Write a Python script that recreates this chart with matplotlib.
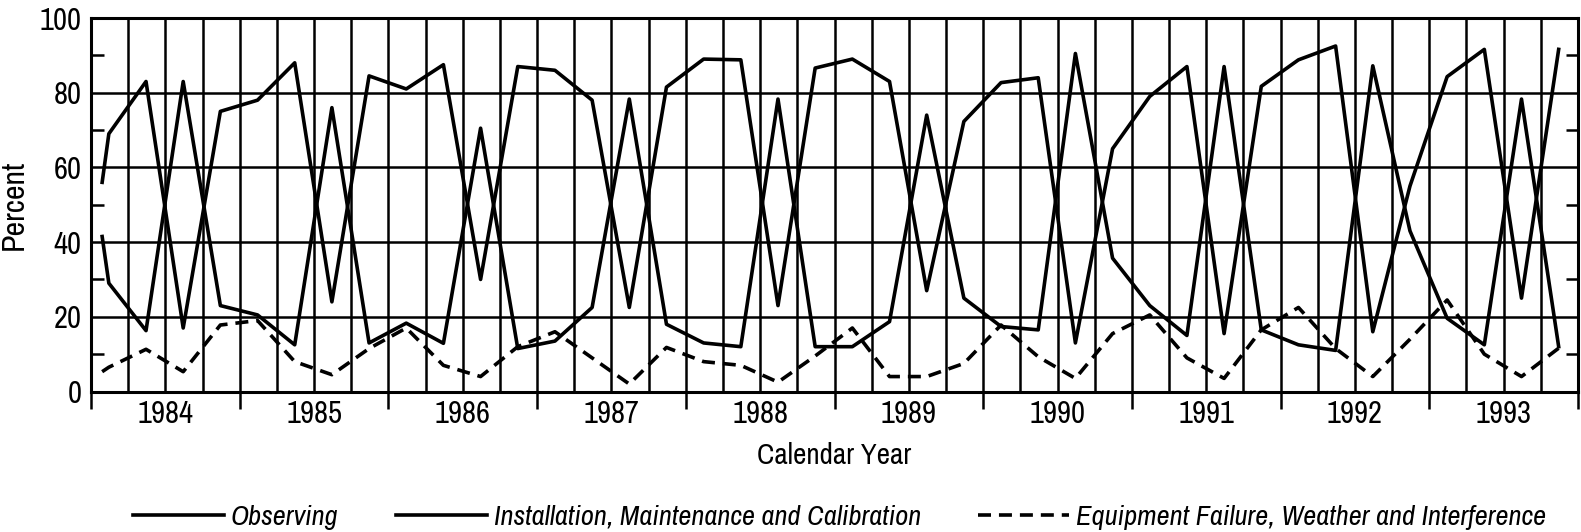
import numpy as np
import matplotlib.pyplot as plt
from matplotlib import font_manager

# look for a condensed face, the original lettering is narrow
entries = font_manager.fontManager.ttflist
narrow = [f.name for f in entries if 'Narrow' in f.name or 'Condensed' in f.name]
stretch = 'normal'
if narrow:
    family = sorted(set(narrow))[0]
    scale = 1.0
elif any(f.name == 'DejaVu Sans' and f.stretch == 'condensed' for f in entries):
    family = 'DejaVu Sans'
    stretch = 'condensed'
    scale = 0.9
else:
    family = 'DejaVu Sans'
    scale = 0.75
plt.rcParams['font.family'] = [family, 'DejaVu Sans']
plt.rcParams['font.stretch'] = stretch

# values, one per quarter, 1984 Q1 .. 1993 Q4
years = list(range(1984, 1994))
quarter = np.arange(40)
start_obs, start_imc, start_eq = 56, 41.5, 5.3   # short lead-in before Q1 1984
observing = [69, 83, 17, 75, 78, 88, 24, 84.5, 81, 87.5,
             30, 87, 86, 78, 22.5, 81.5, 89, 88.8, 23, 86.6,
             89, 83, 27, 72.3, 82.7, 84, 13, 65, 79, 87,
             15.5, 81.7, 88.8, 92.5, 16, 55, 84.3, 91.6, 25, 91.6]
imc = [29, 16.3, 83, 23, 20.5, 12.5, 76, 13, 18.3, 12.9,
       70.5, 11.5, 13.5, 22.5, 78.3, 18, 13, 12, 78.3, 12,
       12, 18.7, 74, 25, 17.4, 16.5, 90.5, 35.7, 23, 15,
       87, 16.5, 12.5, 11, 87.2, 43, 19.6, 12.5, 78.3, 12]
equipment = [6.5, 11.3, 5.3, 17.8, 19, 8, 4.5, 11.5, 17, 7,
             4, 12, 16, 9, 2, 11.8, 8, 7, 2.5, 9.5,
             17, 4, 4, 7.5, 17.8, 9.3, 3.5, 15.5, 20.5, 9,
             3.5, 16.5, 22.5, 11.5, 4, 14, 24.5, 10, 4, 11.6]
labels = ['Observing', 'Installation, Maintenance and Calibration',
          'Equipment Failure, Weather and Interference']

t = 1984.12 + 0.25 * quarter
t0 = 1984.075

W, H = 1581, 532
fig = plt.figure(figsize=(W / 100, H / 100), dpi=100)
ax = fig.add_axes([91 / W, 1 - 391.5 / H, (1578 - 91) / W, (391.5 - 18) / H])

lw = 2.6
l1, = ax.plot(np.r_[t0, t], np.r_[start_obs, observing], color='black', lw=lw)
l2, = ax.plot(np.r_[t0, t], np.r_[start_imc, imc], color='black', lw=lw)
l3, = ax.plot(np.r_[t0, t], np.r_[start_eq, equipment], color='black', lw=lw,
              linestyle=(0, (3.6, 2.2)))

ax.set_xlim(1984, 1994)
ax.set_ylim(0, 100)

ax.set_xticks(np.arange(1984, 1995))
ax.set_xticks(np.arange(1984, 1994.01, 0.25), minor=True)
ax.set_yticks(np.arange(0, 101, 20))
ax.set_yticks(np.arange(10, 100, 20), minor=True)
ax.grid(True, which='both', axis='x', color='black', lw=1.8)
ax.grid(True, which='major', axis='y', color='black', lw=1.8)
ax.tick_params(axis='x', which='major', direction='out', length=12, width=1.8,
               labelbottom=False)
ax.tick_params(axis='x', which='minor', length=0)
ax.tick_params(axis='y', which='major', length=0, labelsize=22 * scale, pad=7)
ax.tick_params(axis='y', which='minor', direction='in', length=9, width=1.8,
               left=True, right=True)
for s in ax.spines.values():
    s.set_linewidth(2.2)

sec = ax.secondary_xaxis('bottom')
sec.set_xticks([y + 0.5 for y in years], labels=[str(y) for y in years])
sec.tick_params(length=0, labelsize=22 * scale, pad=6)
sec.spines['bottom'].set_visible(False)
sec.set_xlabel('Calendar Year', fontsize=21 * scale, labelpad=10)
ax.set_ylabel('Percent', fontsize=23 * scale, labelpad=8)

fig.legend([l1, l2, l3], labels, loc='center', bbox_to_anchor=(0.531, 0.028),
           ncol=3, frameon=False, handlelength=3.2 / scale, handletextpad=0.25,
           columnspacing=2.0 / scale, prop={'style': 'italic', 'size': 20.5 * scale})

fig.savefig('out.png', dpi=100)
